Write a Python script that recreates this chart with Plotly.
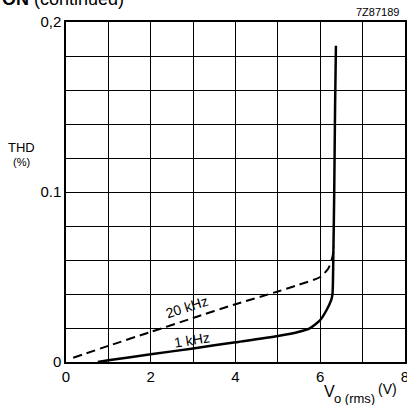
import plotly.graph_objects as go

# Data
x_1k = [0.75, 1.0, 2.0, 3.0, 4.0, 5.0, 5.5, 5.75, 6.0, 6.15, 6.26, 6.29, 6.31, 6.33, 6.35, 6.37]
y_1k = [0.0, 0.001, 0.0045, 0.008, 0.0116, 0.0153, 0.0178, 0.0198, 0.0247, 0.0306, 0.0365, 0.0404, 0.065, 0.10, 0.15, 0.186]

x_20k = [0.17, 1.0, 2.0, 3.0, 4.0, 5.0, 5.5, 6.0, 6.19, 6.29, 6.32]
y_20k = [0.0025, 0.0095, 0.0177, 0.0259, 0.034, 0.0415, 0.0455, 0.050, 0.055, 0.062, 0.068]

x_ticks = [0, 2, 4, 6, 8]
x_ticktext = ["0", "2", "4", "6", "8"]
y_ticks = [0, 0.1, 0.2]
y_ticktext = ["0", "0.1", "0,2"]

FONT = "Liberation Sans, Arial, sans-serif"

fig = go.Figure()
fig.add_trace(go.Scatter(x=x_20k, y=y_20k, mode="lines",
                         line=dict(color="black", width=2, dash="9px,5px", shape="spline", smoothing=0.6),
                         showlegend=False, hoverinfo="skip"))
fig.add_trace(go.Scatter(x=x_1k, y=y_1k, mode="lines",
                         line=dict(color="black", width=2.5, shape="spline", smoothing=0.6),
                         showlegend=False, hoverinfo="skip"))

W, H = 407, 405
L, R, T, B = 66, 2, 22, 43
ph = H - T - B
pw = W - L - R

def px(xp):
    return (xp - L) / pw

def py(yp):
    return (H - B - yp) / ph

grid = dict(showgrid=True, gridcolor="black", gridwidth=1)
fig.update_layout(
    width=W, height=H,
    margin=dict(l=L, r=R, t=T, b=B, autoexpand=False),
    paper_bgcolor="white", plot_bgcolor="white",
    font=dict(family=FONT, color="black", size=14),
    xaxis=dict(range=[0, 8], tickvals=x_ticks, ticktext=x_ticktext,
               minor=dict(dtick=1, tick0=0, ticks="", **grid), **grid,
               showline=True, linecolor="black", linewidth=1.5, mirror=True,
               zeroline=False, ticks="", tickfont=dict(size=15), automargin=False,
               ticklabeloverflow="allow"),
    yaxis=dict(range=[0, 0.2], tickvals=y_ticks, ticktext=y_ticktext,
               minor=dict(dtick=0.02, tick0=0, ticks="", **grid), **grid,
               showline=True, linecolor="black", linewidth=1.5, mirror=True,
               zeroline=False, ticks="", tickfont=dict(size=15), automargin=False,
               ticklabeloverflow="allow"),
)

ann = [
    dict(text="<b>ON</b> (continued)", x=px(0), y=py(11), xanchor="left", yanchor="bottom",
         font=dict(size=18)),
    dict(text="7Z87189", x=px(401), y=py(12), xanchor="right", yanchor="middle",
         font=dict(size=11)),
    dict(text="THD", x=px(6), y=py(147), xanchor="left", yanchor="middle", font=dict(size=13)),
    dict(text="(%)", x=px(11), y=py(162), xanchor="left", yanchor="middle", font=dict(size=11)),
    dict(text="V", x=px(322), y=py(392), xanchor="left", yanchor="middle", font=dict(size=16)),
    dict(text="o (rms)", x=px(332), y=py(398), xanchor="left", yanchor="middle", font=dict(size=13)),
    dict(text="(V)", x=px(376), y=py(389), xanchor="left", yanchor="middle", font=dict(size=14)),
]
for a in ann:
    a.update(xref="paper", yref="paper", showarrow=False)
    fig.add_annotation(**a)

fig.add_annotation(text="20 kHz", x=2.85, y=0.0325, xref="x", yref="y", showarrow=False,
                   textangle=-18, font=dict(size=14))
fig.add_annotation(text="1 kHz", x=2.97, y=0.0128, xref="x", yref="y", showarrow=False,
                   textangle=-9, font=dict(size=14))

fig.write_html("out.html", config={"displayModeBar": False},
               post_script="document.body.style.margin='0';document.body.style.overflow='hidden';")
